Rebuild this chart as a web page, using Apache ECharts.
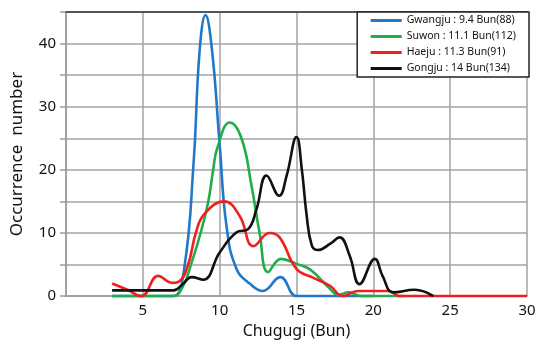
<!DOCTYPE html>
<html>
<head>
<meta charset="utf-8">
<script src="https://cdn.jsdelivr.net/npm/echarts@6/dist/echarts.min.js"></script>
<style>
  html, body { margin: 0; padding: 0; background: #fff; }
  #chart { width: 541px; height: 344px; }
</style>
</head>
<body>
<div id="chart"></div>
<script>
// Occurrence of Chugugi (Bun) values per city, as [Bun, count] points
const gwangju = [[3,0],[4,0],[5,0],[6,0],[7,0],[7.7,4.5],[8.3,21],[8.7,39],[9.08,44.5],[9.5,39],[10,24],[10.45,11],[11.1,4.3],[12,1.9],[12.8,0.8],[13.95,3.0],[15,0],[16,0],[17,0],[18,0],[19,0],[20,0]];
const suwon = [[3,0],[4,0],[5,0],[6,0],[7,0],[7.6,1.5],[8.2,5.5],[8.76,10],[9.26,15],[9.58,20],[9.85,23.5],[10.66,27.5],[11.42,25],[12.07,17.5],[12.6,10],[13.15,3.8],[14,5.9],[15,5.1],[15.9,4.2],[17.2,1.1],[17.7,0.2],[18.4,0.6],[19.2,0],[20,0],[21,0],[22,0]];
const haeju = [[3,2],[4,1],[4.9,0],[6,3.2],[6.9,2.1],[7.4,2.4],[7.95,5],[8.45,10],[9,13],[10.3,15],[11.3,12.7],[12.2,7.9],[13.25,10],[13.9,9.3],[15,4.3],[16,3.0],[17.2,1.6],[18,0],[19,0.8],[20,0.8],[21,0.8],[21.7,0],[23,0],[25,0],[30,0]];
const gongju = [[3,0.9],[4,0.9],[5,0.9],[6,0.9],[7,0.9],[7.6,1.9],[8.17,3.0],[8.93,2.6],[10,6.9],[11.1,10.1],[11.85,10.6],[12.4,13.8],[13.05,19.1],[13.87,15.9],[14.35,19],[15,25.2],[15.35,20],[15.65,13],[16,8],[16.4,7.3],[17.2,8.3],[17.8,9.3],[18.46,6.4],[19.1,1.9],[20.1,5.9],[20.6,3.2],[21.3,0.6],[22.7,1.0],[23.9,0]];

const seriesNames = ['Gwangju : 9.4 Bun(88)', 'Suwon : 11.1 Bun(112)', 'Haeju : 11.3 Bun(91)', 'Gongju : 14 Bun(134)'];
const seriesData = [gwangju, suwon, haeju, gongju];
const seriesColors = ['#1f78c8', '#22ad4b', '#f02020', '#111111'];

const xTicks = { min: 0, max: 30, interval: 5 };
const yTicks = { min: 0, max: 45, interval: 5, labelEvery: 10 };

const FONT = 'Noto Sans';
const chart = echarts.init(document.getElementById('chart'), null, { renderer: 'canvas' });

chart.setOption({
  animation: false,
  backgroundColor: '#ffffff',
  grid: { left: 66, right: 14, top: 12, bottom: 47, containLabel: false },
  legend: {
    orient: 'vertical',
    right: 12,
    top: 12,
    padding: [3, 13, 3, 12],
    itemGap: 5,
    itemWidth: 31,
    itemHeight: 12,
    // line-only legend keys: hide the marker drawn in the middle of each key
    itemStyle: { opacity: 0 },
    lineStyle: { width: 3 },
    backgroundColor: '#ffffff',
    borderColor: '#222222',
    borderWidth: 1.5,
    borderRadius: 0,
    textStyle: { fontFamily: FONT, fontSize: 10.5, color: '#111' },
    data: seriesNames
  },
  xAxis: [{
    type: 'value',
    min: xTicks.min, max: xTicks.max, interval: xTicks.interval,
    name: 'Chugugi (Bun)',
    nameLocation: 'middle',
    nameGap: 20,
    nameTextStyle: { fontFamily: FONT, fontSize: 16, color: '#111' },
    axisLine: { show: true, lineStyle: { color: '#9a9a9a', width: 1.5 } },
    axisTick: { show: false },
    axisLabel: { showMinLabel: false, fontFamily: FONT, fontSize: 15, color: '#111', margin: 7 },
    splitLine: { show: true, lineStyle: { color: '#a3a3a3', width: 1.5 } }
  }, {
    type: 'value',
    position: 'top',
    min: xTicks.min, max: xTicks.max, interval: xTicks.interval,
    axisLine: { show: true, lineStyle: { color: '#555555', width: 2 } },
    axisTick: { show: false },
    axisLabel: { show: false },
    splitLine: { show: false }
  }],
  yAxis: {
    type: 'value',
    min: yTicks.min, max: yTicks.max, interval: yTicks.interval,
    name: 'Occurrence  number',
    nameLocation: 'middle',
    nameGap: 40,
    nameTextStyle: { fontFamily: FONT, fontSize: 17, color: '#111' },
    axisLine: { show: true, lineStyle: { color: '#9a9a9a', width: 1.5 } },
    axisTick: { show: true, length: 6, lineStyle: { color: '#9a9a9a', width: 1.5 } },
    axisLabel: {
      fontFamily: FONT, fontSize: 15, color: '#111', margin: 10,
      formatter: v => (v % yTicks.labelEvery === 0 ? String(v) : '')
    },
    splitLine: { show: true, lineStyle: { color: '#a3a3a3', width: 1.5 } }
  },
  series: seriesData.map((d, i) => ({
    name: seriesNames[i],
    type: 'line',
    xAxisIndex: 0,
    data: d,
    smooth: 0.45,
    showSymbol: false,
    symbol: 'none',
    lineStyle: { color: seriesColors[i], width: 2.6 },
    itemStyle: { color: seriesColors[i] },
    z: 2 + i
  }))
});
</script>
</body>
</html>
